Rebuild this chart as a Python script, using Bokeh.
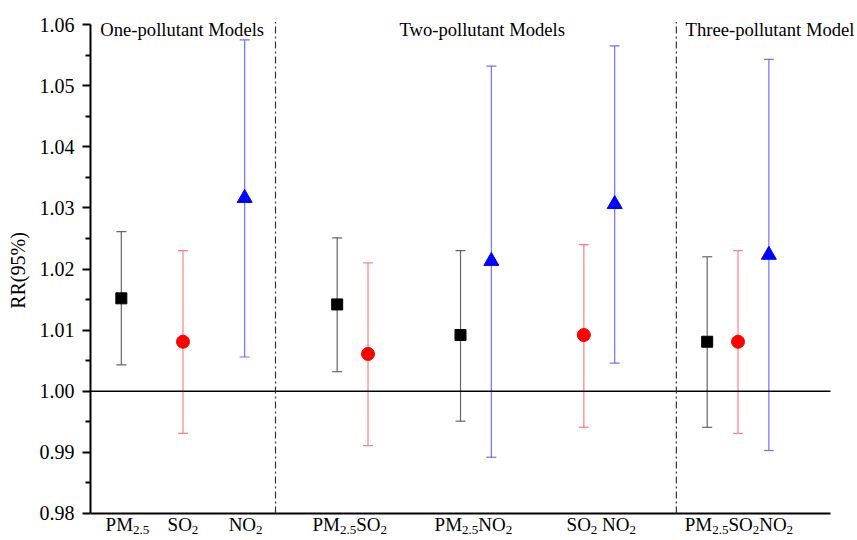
from bokeh.plotting import figure
from bokeh.models import (Label, Whisker, ColumnDataSource, TeeHead,
                          FixedTicker, PrintfTickFormatter)
from bokeh.embed import file_html
from bokeh.resources import INLINE

# ---------------- data ----------------
model_groups = ["One-pollutant Models", "Two-pollutant Models", "Three-pollutant Model"]

# PM2.5 : one-pollutant, PM2.5+SO2, PM2.5+NO2, three-pollutant
pm25_rr = [1.0152, 1.0142, 1.0092, 1.0081]
pm25_lo = [1.0043, 1.0032, 0.9951, 0.9941]
pm25_hi = [1.0261, 1.0251, 1.0230, 1.0220]

# SO2 : one-pollutant, PM2.5+SO2, SO2+NO2, three-pollutant
so2_rr = [1.0081, 1.0061, 1.0092, 1.0081]
so2_lo = [0.9931, 0.9911, 0.9941, 0.9931]
so2_hi = [1.0230, 1.0210, 1.0240, 1.0230]

# NO2 : one-pollutant, PM2.5+NO2, SO2+NO2, three-pollutant
no2_rr = [1.0316, 1.0213, 1.0306, 1.0223]
no2_lo = [1.0056, 0.9892, 1.0046, 0.9903]
no2_hi = [1.0575, 1.0532, 1.0565, 1.0543]

# category tick labels: (text, is_subscript) segments
tick_labels = [
    [("PM", 0), ("2.5", 1)],
    [("SO", 0), ("2", 1)],
    [("NO", 0), ("2", 1)],
    [("PM", 0), ("2.5", 1), ("SO", 0), ("2", 1)],
    [("PM", 0), ("2.5", 1), ("NO", 0), ("2", 1)],
    [("SO", 0), ("2", 1), (" ", 0), ("NO", 0), ("2", 1)],
    [("PM", 0), ("2.5", 1), ("SO", 0), ("2", 1), ("NO", 0), ("2", 1)],
]
y_ticks = [0.98, 0.99, 1.00, 1.01, 1.02, 1.03, 1.04, 1.05, 1.06]
y_minor = [0.985, 0.995, 1.005, 1.015, 1.025, 1.035, 1.045, 1.055]
y_axis_bounds = (0.98, 1.06)
x_axis_bounds = (0, 24)
ref_rr = 1.00

# ---------------- layout (positions) ----------------
pm25_x = [1, 8, 12, 20]
so2_x = [3, 9, 16, 21]
no2_x = [5, 13, 17, 22]
divider_x = [6, 19]
divider_top = 1.0604
group_title_x = [0.32, 10.02, 19.30]
tick_label_x = [0.49, 2.50, 4.48, 7.20, 11.16, 15.44, 19.27]

FONT = "Liberation Serif"

# frame spans from the y-axis to the right edge and the full height,
# so that the annotation texts outside the data area are not clipped
p = figure(width=857, height=540, output_backend="svg", toolbar_location=None,
           x_range=(0, 24.875), y_range=(0.97558, 1.06393), x_axis_location=None,
           min_border_left=90, min_border_right=0, min_border_top=0,
           min_border_bottom=0)
p.outline_line_color = None
p.grid.visible = False
p.background_fill_color = "white"
p.border_fill_color = "white"

ax = p.yaxis[0]
ax.bounds = y_axis_bounds
ax.ticker = FixedTicker(ticks=y_ticks, minor_ticks=y_minor)
ax.formatter = PrintfTickFormatter(format="%.2f")
ax.axis_line_width = 2
ax.axis_line_color = "black"
ax.major_tick_line_width = 2
ax.minor_tick_line_width = 2
ax.major_tick_out = 8
ax.major_tick_in = 0
ax.minor_tick_out = 5
ax.minor_tick_in = 0
ax.major_label_text_font = FONT
ax.major_label_text_font_size = "20px"
ax.major_label_text_color = "black"
ax.major_label_standoff = 8
ax.axis_label = "RR(95%)"
ax.axis_label_text_font = FONT
ax.axis_label_text_font_size = "20px"
ax.axis_label_text_font_style = "normal"
ax.axis_label_text_color = "black"
ax.axis_label_standoff = 8

# bottom axis line, reference line and group dividers
p.segment(x0=[x_axis_bounds[0]], y0=[y_axis_bounds[0]], x1=[x_axis_bounds[1]],
          y1=[y_axis_bounds[0]], line_color="black", line_width=2)
p.segment(x0=[x_axis_bounds[0]], y0=[ref_rr], x1=[x_axis_bounds[1]], y1=[ref_rr],
          line_color="black", line_width=1.6)
p.segment(x0=divider_x, y0=[y_axis_bounds[0]] * len(divider_x), x1=divider_x,
          y1=[divider_top] * len(divider_x), line_color="#333333",
          line_width=1.2, line_dash="7 3 2 3")

series = [
    (pm25_x, pm25_rr, pm25_lo, pm25_hi, "#666666", "black", "square", 11),
    (so2_x, so2_rr, so2_lo, so2_hi, "#ff8080", "#ff0000", "circle", 13),
    (no2_x, no2_rr, no2_lo, no2_hi, "#7070ff", "#0000ff", "triangle", 15),
]
for xs, rr, lo, hi, lc, mc, mk, sz in series:
    src = ColumnDataSource(dict(x=xs, rr=rr, lo=lo, hi=hi))
    w = Whisker(source=src, base="x", lower="lo", upper="hi",
                line_color=lc, line_width=1.2,
                upper_head=TeeHead(size=10, line_color=lc, line_width=1.2),
                lower_head=TeeHead(size=10, line_color=lc, line_width=1.2))
    p.add_layout(w)
    p.scatter("x", "rr", source=src, marker=mk, size=sz, fill_color=mc,
              line_color=mc)

# group titles
for gx, txt in zip(group_title_x, model_groups):
    p.add_layout(Label(x=gx, y=y_axis_bounds[1], y_offset=-5, text=txt, text_font=FONT,
                       text_font_size="18.6px", text_color="black",
                       text_baseline="alphabetic", text_align="left"))

# category labels with subscripts
MAIN, SUB = 19, 13
widths = {"P": .556, "M": .889, "S": .556, "O": .722, "N": .722,
          "2": .5, ".": .25, "5": .5, " ": .25}
for lx, segs in zip(tick_label_x, tick_labels):
    off = 0.0
    for txt, sub in segs:
        fs = SUB if sub else MAIN
        p.add_layout(Label(x=lx, y=y_axis_bounds[0], x_offset=off,
                           y_offset=-17 if sub else -11,
                           text=txt, text_font=FONT, text_font_size=f"{fs}px",
                           text_color="black", text_baseline="alphabetic",
                           text_align="left"))
        off += sum(widths[c] for c in txt) * fs

open("out.html", "w").write(file_html(p, INLINE))
